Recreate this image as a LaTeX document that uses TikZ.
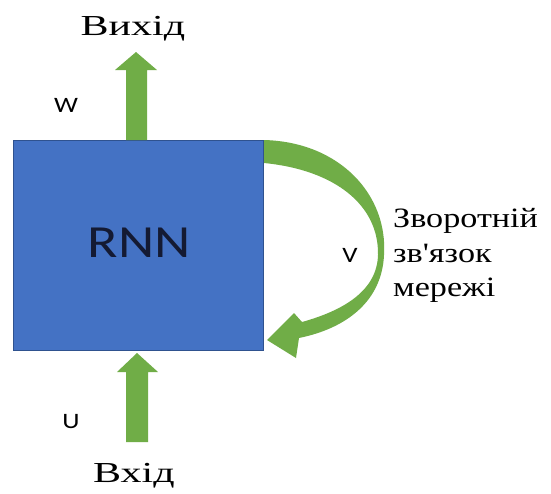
\documentclass[tikz,border=0pt]{standalone}
\usepackage{fontspec}
\setmainfont{Liberation Serif}
\newfontfamily\serapos{Liberation Serif}
\newfontfamily\sansf{Carlito}
\usepackage{graphicx}
\definecolor{rnnblue}{HTML}{4472C4}
\definecolor{rnnedge}{HTML}{2F528F}
\definecolor{arrgreen}{HTML}{70AD47}
\definecolor{navytext}{HTML}{141A33}
\newcommand\wide[1]{\scalebox{1.22}[1]{#1}}
\newcommand\wider[1]{\scalebox{1.45}[1]{#1}}
\begin{document}
\begin{tikzpicture}[x=1pt,y=-1pt,
  serlabel/.style={inner sep=0pt, font=\fontsize{29}{34}\selectfont},
  sanlabel/.style={inner sep=0pt, font=\sansf\fontsize{22}{26}\selectfont},
  fbline/.style={inner sep=0pt, anchor=base west, font=\fontsize{28}{34}\selectfont},
  blockarrow/.style={fill=arrgreen}]
\useasboundingbox[fill=white] (0,0) rectangle (551,493);
\node[draw=rnnedge, fill=rnnblue, line width=1.2pt, minimum width=250pt, minimum height=210pt, anchor=north west, inner sep=0pt] (rnn) at (13,140) {};
\node[inner sep=0pt, anchor=base, font=\sansf\fontsize{46}{50}\selectfont, text=navytext] (rnnlabel) at (139,257) {\wide{RNN}};
% top arrow
\fill[blockarrow] (126,140) -- (126,70) -- (115,70) -- (136,52) -- (157,70) -- (147,70) -- (147,140) -- cycle;
% bottom arrow
\fill[blockarrow] (126,442) -- (126,372) -- (117,372) -- (137,353) -- (158,372) -- (148,372) -- (148,442) -- cycle;
% feedback arrow
\fill[blockarrow] (264,140) .. controls (340,142) and (388,195) .. (384,255)
  .. controls (382,300) and (348,328) .. (299,338) -- (296,358) -- (267,340) -- (294,313) -- (302,322)
  .. controls (345,310) and (377,290) .. (378,255)
  .. controls (379,205) and (335,170) .. (264,163) -- cycle;
\node[serlabel, anchor=base] (out) at (133,35) {\wider{Вихід}};
\node[serlabel, anchor=base] (in) at (134,482) {\wider{Вхід}};
\node[sanlabel, anchor=base] (w) at (66,112) {\wide{W}};
\node[sanlabel, anchor=base] (u) at (71,428) {\wide{U}};
\node[sanlabel, anchor=base] (v) at (350,262) {\wide{V}};
\node[fbline] (fb1) at (393,227) {\wide{Зворотній}};
\node[fbline] (fb2) at (393,262) {\wide{зв{\serapos'}язок}};
\node[fbline] (fb3) at (393,296) {\wide{мережі}};
\end{tikzpicture}
\end{document}
